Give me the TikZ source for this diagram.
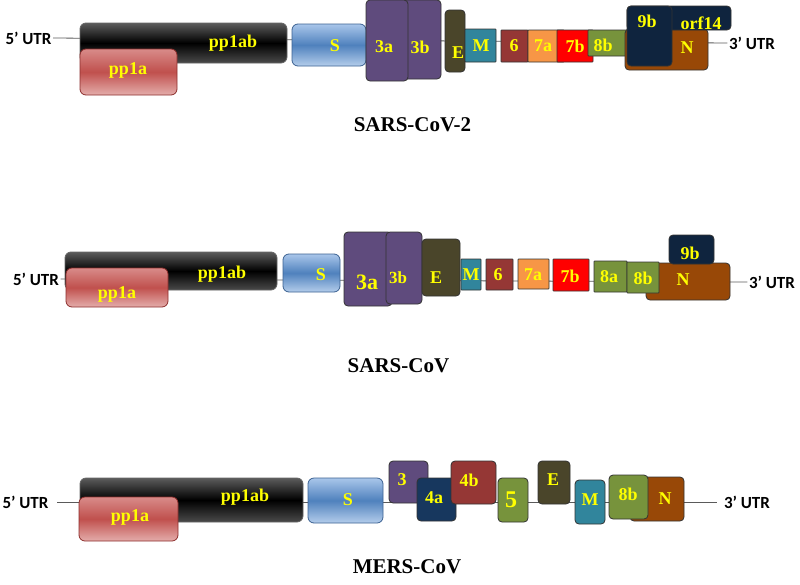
\documentclass[tikz,border=0pt]{standalone}
\usepackage{xcolor}
\usepackage{tikz}
\usepackage{fontspec}
\setmainfont{Liberation Serif}
\newfontfamily\utrfont{Carlito}
\usetikzlibrary{positioning,calc}

\definecolor{bbline}{HTML}{5A5A5A}
\definecolor{pabtop}{HTML}{5C5C5C}
\definecolor{pabbot}{HTML}{4A4A4A}
\definecolor{patop}{HTML}{D88B89}
\definecolor{pamid}{HTML}{C0504D}
\definecolor{pabot}{HTML}{E4ADAB}
\definecolor{paedge}{HTML}{8C2E2C}
\definecolor{stop}{HTML}{A9C6EA}
\definecolor{smid}{HTML}{4F81BD}
\definecolor{sbot}{HTML}{B4CDEB}
\definecolor{sedge}{HTML}{3B6191}
\definecolor{purp}{HTML}{5F4B7D}
\definecolor{eolive}{HTML}{4A452A}
\definecolor{mteal}{HTML}{31859C}
\definecolor{brick}{HTML}{953735}
\definecolor{orng}{HTML}{F79646}
\definecolor{rred}{HTML}{FF0000}
\definecolor{grn}{HTML}{77933C}
\definecolor{nbrown}{HTML}{984807}
\definecolor{navy}{HTML}{0F243E}
\definecolor{fablue}{HTML}{17375E}
\definecolor{gold}{HTML}{FFFF00}

\begin{document}
\begin{tikzpicture}[x=1pt, y=-1pt,
    gene/.style={draw=black!80, line width=0.8pt, rounded corners=4pt, inner sep=0pt, outer sep=0pt},
    sq/.style={gene, rounded corners=0.6pt},
    pab/.style={gene, draw=black!60, rounded corners=6pt, top color=pabtop, bottom color=pabbot, middle color=black},
    pa/.style={gene, draw=paedge, rounded corners=6pt, top color=patop, bottom color=pabot, middle color=pamid},
    spike/.style={gene, draw=sedge, rounded corners=6pt, top color=stop, bottom color=sbot, middle color=smid},
    lbl/.style={text=gold, font=\bfseries\fontsize{18}{18}\selectfont, inner sep=0pt},
    utr/.style={font=\utrfont\bfseries\fontsize{17}{17}\selectfont, inner sep=1.5pt},
    bb/.style={draw=bbline, line width=0.8pt},
    title/.style={font=\bfseries\fontsize{21}{21}\selectfont, inner sep=0pt}]
    \useasboundingbox (0,0) rectangle (800,584);

    % SARS-CoV-2
    \node [utr] (sc2u5) at (28.5,38) {5’ UTR};
    \node [utr] (sc2u3) at (752,43) {3’ UTR};
    \draw [bb] (sc2u5.east) -- (sc2u3.west);
    \node [pab, minimum width=207, minimum height=40] (sc2pp1ab) at (183.5,43) {};
    \node [lbl] (sc2t1) at (233,43) {pp1ab};
    \node [pa, minimum width=97, minimum height=46] (sc2pp1a) at (128.5,72) {};
    \node [lbl] (sc2t2) at (128,70) {pp1a};
    \node [spike, minimum width=74, minimum height=42] (sc2S) at (329,45) {};
    \node [lbl] (sc2t3) at (335,46) {S};
    \node [gene, fill=purp, minimum width=46, minimum height=79] (sc2n3b) at (418,39.5) {};
    \node [lbl] (sc2t4) at (420,47) {3b};
    \node [gene, fill=purp, minimum width=42, minimum height=81] (sc2n3a) at (387,40.5) {};
    \node [lbl] (sc2t5) at (384,47) {3a};
    \node [gene, fill=eolive, minimum width=20, minimum height=62] (sc2E) at (455,41) {};
    \node [lbl] (sc2t6) at (458,53) {E};
    \node [sq, fill=mteal, minimum width=31, minimum height=33] (sc2M) at (480.5,45.5) {};
    \node [lbl] (sc2t7) at (481,46) {M};
    \node [sq, fill=brick, minimum width=27, minimum height=32] (sc2n6) at (514.5,46) {};
    \node [lbl] (sc2t8) at (514,46) {6};
    \node [sq, fill=orng, minimum width=36, minimum height=32] (sc2n7a) at (546,46) {};
    \node [lbl] (sc2t9) at (543,46) {7a};
    \node [sq, fill=rred, minimum width=36, minimum height=32] (sc2n7b) at (575,46) {};
    \node [lbl] (sc2t10) at (575,46) {7b};
    \node [sq, fill=grn, minimum width=42, minimum height=26] (sc2n8b) at (609,43) {};
    \node [lbl] (sc2t11) at (603,45) {8b};
    \node [gene, fill=nbrown, minimum width=83, minimum height=41] (sc2N) at (666.5,49.5) {};
    \node [lbl] (sc2t12) at (687,48) {N};
    \node [gene, fill=navy, minimum width=104, minimum height=24] (sc2orf) at (679,18) {};
    \node [lbl] (sc2t13) at (701,23) {orf14};
    \node [gene, fill=navy, minimum width=45, minimum height=60] (sc2n9b) at (649.5,36) {};
    \node [lbl] (sc2t14) at (647,21) {9b};
    \node [title] (sc2name) at (412.5,125) {SARS-CoV-2};

    % SARS-CoV
    \node [utr] (sc1u5) at (36,279) {5’ UTR};
    \node [utr] (sc1u3) at (772,282) {3’ UTR};
    \draw [bb] (sc1u5.east) -- (sc1u3.west);
    \node [pab, minimum width=212, minimum height=38] (sc1pp1ab) at (171,271) {};
    \node [lbl] (sc1t1) at (222,274) {pp1ab};
    \node [pa, minimum width=102, minimum height=39] (sc1pp1a) at (117,287.5) {};
    \node [lbl] (sc1t2) at (117,294) {pp1a};
    \node [spike, minimum width=57, minimum height=38] (sc1S) at (311.5,273) {};
    \node [lbl] (sc1t3) at (321,275) {S};
    \node [gene, fill=purp, minimum width=48, minimum height=74] (sc1n3a) at (368,269) {};
    \node [lbl, font=\bfseries\fontsize{22}{22}\selectfont] (sc1t4) at (367,282) {3a};
    \node [gene, fill=purp, minimum width=36, minimum height=72] (sc1n3b) at (404,268) {};
    \node [lbl, font=\bfseries\fontsize{17}{17}\selectfont] (sc1t5) at (398,278) {3b};
    \node [gene, fill=eolive, minimum width=38, minimum height=57] (sc1E) at (441,267.5) {};
    \node [lbl] (sc1t6) at (436,278) {E};
    \node [sq, fill=mteal, minimum width=20, minimum height=31] (sc1M) at (471,274.5) {};
    \node [lbl] (sc1t7) at (471,275) {M};
    \node [sq, fill=brick, minimum width=27, minimum height=31] (sc1n6) at (499.5,274.5) {};
    \node [lbl] (sc1t8) at (498,275) {6};
    \node [sq, fill=orng, minimum width=31, minimum height=30] (sc1n7a) at (533.5,274) {};
    \node [lbl] (sc1t9) at (533,275) {7a};
    \node [sq, fill=rred, minimum width=36, minimum height=32] (sc1n7b) at (571,275) {};
    \node [lbl] (sc1t10) at (570,276) {7b};
    \node [sq, fill=grn, minimum width=33, minimum height=31] (sc1n8a) at (610.5,276.5) {};
    \node [lbl] (sc1t11) at (609,277) {8a};
    \node [gene, fill=nbrown, minimum width=84, minimum height=37] (sc1N) at (688,281.5) {};
    \node [lbl] (sc1t12) at (683,280) {N};
    \node [sq, fill=grn, minimum width=32, minimum height=31] (sc1n8b) at (643,277.5) {};
    \node [lbl] (sc1t13) at (643,278) {8b};
    \node [gene, fill=navy, minimum width=45, minimum height=29] (sc1n9b) at (691.5,249.5) {};
    \node [lbl] (sc1t14) at (690,253) {9b};
    \node [title] (sc1name) at (398.5,366) {SARS-CoV};

    % MERS-CoV
    \node [utr] (msu5) at (25.5,502) {5’ UTR};
    \node [utr] (msu3) at (747,502) {3’ UTR};
    \draw [bb] ([xshift=7pt]msu5.east) -- ([xshift=-5pt]msu3.west);
    \node [pab, minimum width=223, minimum height=44] (mspp1ab) at (191.5,500) {};
    \node [lbl] (mst1) at (245,497) {pp1ab};
    \node [pa, minimum width=99, minimum height=44] (mspp1a) at (128.5,519) {};
    \node [lbl] (mst2) at (130,517) {pp1a};
    \node [spike, minimum width=75, minimum height=45] (msS) at (345.5,500.5) {};
    \node [lbl] (mst3) at (348,500) {S};
    \node [gene, fill=purp, minimum width=39, minimum height=42] (msn3) at (408.5,482) {};
    \node [lbl] (mst4) at (402,480) {3};
    \node [gene, fill=fablue, minimum width=39, minimum height=43] (msn4a) at (436.5,499.5) {};
    \node [lbl] (mst5) at (434,498) {4a};
    \node [gene, fill=brick, minimum width=45, minimum height=43] (msn4b) at (473.5,482.5) {};
    \node [lbl] (mst6) at (469,480) {4b};
    \node [gene, fill=grn, minimum width=30, minimum height=44] (msn5) at (513,500) {};
    \node [lbl, font=\bfseries\fontsize{24}{24}\selectfont] (mst7) at (511,500) {5};
    \node [gene, fill=eolive, minimum width=32, minimum height=43] (msE) at (554,482.5) {};
    \node [lbl] (mst8) at (553,480) {E};
    \node [gene, fill=mteal, minimum width=30, minimum height=44] (msM) at (590,502) {};
    \node [lbl] (mst9) at (590,500) {M};
    \node [gene, fill=nbrown, minimum width=54, minimum height=44] (msN) at (657,499) {};
    \node [lbl] (mst10) at (665,499) {N};
    \node [gene, fill=grn, minimum width=39, minimum height=44] (msn8b) at (628.5,497) {};
    \node [lbl] (mst11) at (628,494) {8b};
    \node [title] (msname) at (407,567) {MERS-CoV};
\end{tikzpicture}
\end{document}
